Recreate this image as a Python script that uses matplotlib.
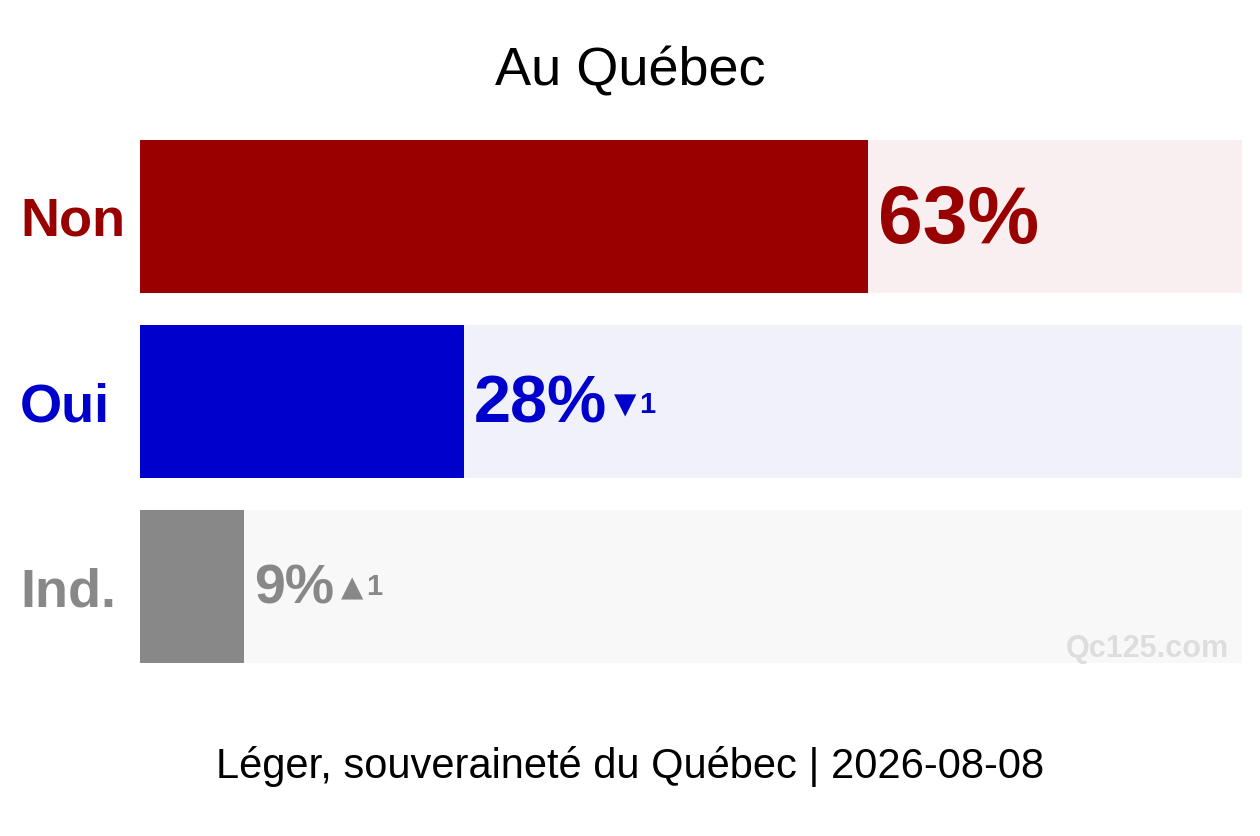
import matplotlib
matplotlib.use("Agg")
import matplotlib.pyplot as plt
from matplotlib.transforms import blended_transform_factory

categories = ["Non", "Oui", "Ind."]
values = [63, 28, 9]
changes = [0, -1, 1]
title = "Au Québec"
source = "Léger, souveraineté du Québec | 2026-08-08"
watermark = "Qc125.com"

bar_colors = ["#990000", "#0000CC", "#888888"]
bg_colors = ["#F9EFF0", "#F1F1FA", "#F8F8F8"]
value_sizes = [58, 48, 40]
x_max = 95.3

plt.rcParams["font.family"] = ["Liberation Sans", "DejaVu Sans"]

fig = plt.figure(figsize=(12.6, 8.36), dpi=100)
ax = fig.add_axes([140 / 1260, 1 - 663 / 836, 1102 / 1260, 523 / 836])

y = list(range(len(categories)))
h = 0.826
ax.barh(y, [x_max] * len(y), height=h, color=bg_colors, zorder=1)
ax.barh(y, values, height=h, color=bar_colors, zorder=2)
ax.set_xlim(0, x_max)
ax.set_ylim(len(y) - 1 + h / 2, -h / 2)
ax.axis("off")

label_tr = blended_transform_factory(fig.transFigure, ax.transData)
for i, cat in enumerate(categories):
    ax.text(20 / 1260, y[i], cat, transform=label_tr, ha="left",
            va="center_baseline", fontsize=39, fontweight="bold",
            color=bar_colors[i])
    size = value_sizes[i]
    t = ax.annotate(f"{values[i]}%", xy=(values[i], y[i]), xytext=(7, 2),
                    textcoords="offset points", ha="left",
                    va="center_baseline", fontsize=size, fontweight="bold",
                    color=bar_colors[i], zorder=3)
    if changes[i] != 0:
        arrow = "▲" if changes[i] > 0 else "▼"
        a = ax.annotate(arrow, xy=(1, 0), xycoords=t,
                        xytext=(5, 0.35 * size), textcoords="offset points",
                        ha="left", va="baseline", fontsize=21,
                        family="DejaVu Sans", color=bar_colors[i], zorder=3)
        ax.annotate(f"{abs(changes[i])}", xy=(1, 0), xycoords=a,
                    xytext=(2, 0.236 * 21), textcoords="offset points",
                    ha="left", va="baseline", fontsize=21, fontweight="bold",
                    color=bar_colors[i], zorder=3)

ax.text(0.988, 0.012, watermark, transform=ax.transAxes, ha="right",
        va="baseline", fontsize=22, fontweight="bold", color="#DDDDDD",
        zorder=3)

fig.text(0.5, 1 - 86 / 836, title, ha="center", va="baseline", fontsize=39)
fig.text(0.5, 1 - 778 / 836, source, ha="center", va="baseline", fontsize=30)

fig.savefig("out.png", dpi=100)
